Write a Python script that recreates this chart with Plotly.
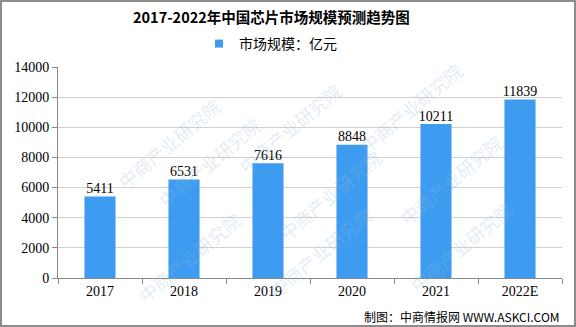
import plotly.graph_objects as go

categories = ["2017", "2018", "2019", "2020", "2021", "2022E"]
values = [5411, 6531, 7616, 8848, 10211, 11839]
y_ticks = [0, 2000, 4000, 6000, 8000, 10000, 12000, 14000]
series_name = "市场规模：亿元"

W, H = 576, 327
ml, mr, mt, mb = 58, 14, 67, 49
pw, ph = W - ml - mr, H - mt - mb

serif = "Liberation Serif, DejaVu Serif"

fig = go.Figure()
fig.add_trace(go.Bar(
    x=categories, y=values, name=series_name, showlegend=False,
    marker=dict(color="#3d9cf0", line=dict(width=0)),
    width=0.37,
))
fig.add_trace(go.Scatter(
    x=categories, y=values, mode="text", showlegend=False,
    text=[str(v) for v in values], textposition="top center",
    textfont=dict(family=serif, size=14, color="#000000"),
    cliponaxis=False, hoverinfo="skip",
))
# legend entry
fig.add_trace(go.Scatter(
    x=[None], y=[None], mode="markers", name=series_name, showlegend=True,
    marker=dict(symbol="square", size=8, color="#3d9cf0"),
))

def px2paper_x(px):
    return (px - ml) / pw

def px2paper_y(py):
    return (H - mb - py) / ph

shapes = [dict(type="rect", xref="paper", yref="paper",
               x0=px2paper_x(1), x1=px2paper_x(W - 1),
               y0=px2paper_y(H - 1), y1=px2paper_y(1),
               line=dict(color="#8c8c8c", width=2), layer="below")]

annotations = [
    dict(text="<b>2017-2022年中国芯片市场规模预测趋势图</b>", xref="paper", yref="paper",
         x=px2paper_x(271), y=px2paper_y(16), xanchor="center", yanchor="middle",
         showarrow=False, font=dict(family="Noto Sans CJK SC, Liberation Serif", size=14.5, color="#000")),
    dict(text="制图：中商情报网 WWW.ASKCI.COM", xref="paper", yref="paper",
         x=px2paper_x(562), y=px2paper_y(316), xanchor="right", yanchor="middle",
         showarrow=False, font=dict(family="Noto Sans CJK SC, Liberation Mono", size=12, color="#000")),
]

# faint watermark texts
wm = [(110, 90), (290, 75), (470, 55), (150, 215), (330, 195), (510, 180), (130, 310), (320, 305), (520, 300)]
for (x, y) in wm:
    annotations.append(dict(text="中商产业研究院", xref="paper", yref="paper",
                            x=px2paper_x(x), y=px2paper_y(y), showarrow=False, textangle=-40,
                            font=dict(family="Noto Sans CJK SC", size=18, color="rgba(150,185,215,0.28)")))

fig.update_layout(
    width=W, height=H,
    margin=dict(l=ml, r=mr, t=mt, b=mb),
    paper_bgcolor="#ffffff", plot_bgcolor="#ffffff",
    showlegend=True,
    legend=dict(orientation="h", x=px2paper_x(199), xanchor="left", y=px2paper_y(44), yanchor="middle",
                font=dict(family="Noto Sans CJK SC", size=14, color="#000"),
                itemwidth=30, bgcolor="rgba(0,0,0,0)"),
    xaxis=dict(showline=True, linecolor="#888888", linewidth=1,
               ticks="outside", tickcolor="#888888", ticklen=5, tickson="boundaries",
               tickfont=dict(family=serif, size=14, color="#000"),
               showgrid=False),
    yaxis=dict(range=[0, 14000], tickvals=y_ticks, ticktext=[str(t) for t in y_ticks],
               showline=True, linecolor="#888888", linewidth=1,
               ticks="outside", tickcolor="#888888", ticklen=5,
               gridcolor="#d0d0d0", gridwidth=1, zeroline=False,
               tickfont=dict(family=serif, size=14, color="#000")),
    shapes=shapes, annotations=annotations,
)

fig.write_html("out.html")
